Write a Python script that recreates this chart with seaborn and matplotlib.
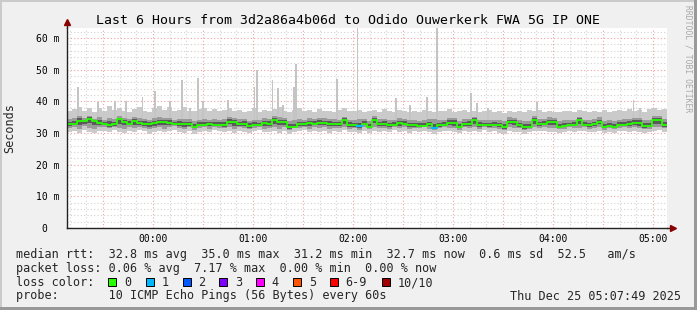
import numpy as np
import matplotlib
matplotlib.use("Agg")
import matplotlib.pyplot as plt
import seaborn as sns
from matplotlib.patches import Rectangle
from matplotlib.lines import Line2D

# ---------------- data ----------------
start_h = -0.86          # hours relative to 00:00 (first sample)
step_h = 0.05            # 3-minute samples
median_ms = [32.8,32.9,33.9,33.7,34.5,33.8,33.2,33.0,32.6,32.7,
             34.3,33.5,33.0,33.8,33.2,33.0,32.8,33.1,33.4,33.6,
             33.2,32.8,32.9,32.7,32.8,31.9,32.6,32.5,32.8,32.6,
             32.5,32.6,33.6,33.4,32.8,32.9,32.2,32.6,32.5,33.1,
             33.0,34.2,33.6,33.4,31.8,32.0,32.8,32.7,33.1,33.0,
             33.2,33.1,32.9,32.8,32.7,34.0,32.6,32.5,32.2,33.0,
             32.0,34.2,32.8,32.9,32.5,32.6,33.1,33.0,32.5,32.4,
             32.2,32.3,32.8,31.5,32.5,32.6,33.3,33.2,31.8,32.8,
             32.9,34.0,32.6,32.5,32.5,32.6,32.4,31.8,33.6,33.4,
             32.5,31.8,32.0,34.2,32.8,32.9,33.6,33.4,32.0,32.1,
             32.5,32.6,34.0,32.6,32.5,32.7,33.6,32.0,32.1,32.0,
             32.5,32.6,32.9,33.3,33.2,32.2,32.3,34.2,34.0,32.5]
ping_min = [30.3,30.6,30.1,30.8,30.4,29.9,30.5,30.7,30.2,30.9,
            30.4,30.0,30.6,30.3,30.8,30.5,29.8,30.4,30.7,30.2,
            30.6,30.9,30.3,30.1,30.7,29.7,30.4,30.6,30.2,30.8,
            30.5,30.3,30.7,30.1,30.6,30.4,29.9,30.5,30.8,30.2,
            30.4,30.6,30.0,30.7,29.6,30.3,30.5,30.8,30.2,30.6,
            30.4,30.7,30.1,30.5,30.3,30.8,30.2,30.4,29.9,30.6,
            30.1,30.7,30.3,30.5,30.2,30.8,30.4,30.6,30.0,30.5,
            30.3,30.7,30.2,29.8,30.4,30.6,30.5,30.3,29.9,30.7,
            30.4,30.6,30.2,30.8,30.3,30.5,30.1,29.8,30.6,30.4,
            30.3,29.7,30.2,30.6,30.5,30.7,30.4,30.3,30.0,30.2,
            30.6,30.4,30.5,30.7,30.2,30.4,30.6,29.9,30.3,30.1,
            30.5,30.7,30.4,30.6,30.3,30.0,30.2,30.6,30.8,30.4]
ping_max = [36.8,37.5,38.2,37.0,37.8,36.5,37.9,36.9,38.4,37.2,
            38.0,37.1,36.7,37.6,38.3,37.0,36.6,37.8,38.5,37.3,
            38.1,36.9,37.4,38.2,37.0,36.8,37.7,38.0,36.9,37.5,
            36.9,37.4,38.0,36.8,37.3,36.6,37.1,37.8,36.7,37.2,
            36.9,37.6,38.1,37.0,36.5,37.3,37.8,36.8,37.2,36.6,
            37.5,36.9,37.1,36.7,37.4,37.9,36.8,37.0,37.3,36.6,
            36.8,37.2,36.6,37.5,37.0,36.5,37.3,36.9,36.7,37.1,
            36.6,37.4,36.9,36.5,37.0,36.8,37.6,36.7,36.9,37.2,
            36.6,37.0,36.5,36.9,37.3,36.7,36.8,36.4,37.1,36.6,
            36.9,36.5,37.2,36.8,37.4,36.6,37.0,36.7,36.5,36.9,
            37.1,36.6,37.3,36.8,36.5,37.0,36.7,37.2,36.6,36.9,
            37.4,36.8,37.6,37.0,37.2,36.7,37.5,37.8,37.3,37.6]
ping_q_low = [31.6,31.9,31.4,32.1,31.7,31.2,31.8,32.0,31.5,31.9,
              31.6,31.3,31.9,31.5,32.0,31.7,31.2,31.6,31.9,31.4,
              31.8,32.1,31.5,31.3,31.9,31.0,31.6,31.8,31.4,31.9,
              31.7,31.5,31.9,31.3,31.8,31.6,31.2,31.7,32.0,31.4,
              31.6,31.8,31.2,31.9,30.9,31.5,31.7,32.0,31.4,31.8,
              31.6,31.9,31.3,31.7,31.5,32.0,31.4,31.6,31.1,31.8,
              31.3,31.9,31.5,31.7,31.4,32.0,31.6,31.8,31.2,31.7,
              31.5,31.9,31.4,31.0,31.6,31.8,31.7,31.5,31.1,31.9,
              31.6,31.8,31.4,32.0,31.5,31.7,31.3,31.0,31.8,31.6,
              31.5,31.0,31.4,31.8,31.7,31.9,31.6,31.5,31.2,31.4,
              31.8,31.6,31.7,31.9,31.4,31.6,31.8,31.1,31.5,31.3,
              31.7,31.9,31.6,31.8,31.5,31.2,31.4,31.8,32.0,31.6]
ping_q_high = [34.3,34.8,35.4,34.6,35.3,34.5,34.9,34.2,34.7,34.4,
               35.4,34.8,34.3,35.0,34.6,34.4,34.1,34.6,35.0,34.8,
               34.7,34.2,34.5,34.3,34.4,33.9,34.2,34.5,34.1,34.3,
               34.2,34.4,35.0,34.7,34.3,34.4,33.9,34.2,34.1,34.6,
               34.5,35.3,34.9,34.7,33.8,34.0,34.4,34.2,34.6,34.5,
               34.7,34.6,34.4,34.3,34.2,35.2,34.1,34.0,34.4,34.5,
               33.9,35.3,34.4,34.5,34.1,34.2,34.6,34.5,34.0,34.0,
               33.9,34.0,34.3,34.5,34.1,34.2,34.8,34.7,33.8,34.3,
               34.4,35.2,34.1,34.0,34.1,34.2,34.0,33.7,34.9,34.8,
               34.1,33.8,33.9,35.3,34.3,34.4,34.9,34.8,33.9,34.0,
               34.1,34.2,35.2,34.2,34.1,34.3,34.9,33.9,34.0,33.8,
               34.2,34.3,34.5,34.8,34.7,34.0,34.1,35.4,35.3,34.3]
loss1_samples = [58, 73]
spike_h = [-0.753,-0.55,-0.38,-0.27,-0.107,0.02,0.17,0.287,0.37,0.447,0.5,
           0.747,1.013,1.04,1.193,1.247,1.297,1.41,1.43,1.837,2.045,2.427,
           2.57,2.737,2.84,3.177,3.237,3.35,3.837,4.803,4.87]
spike_ms = [44.6,39.9,40.0,40.0,41.3,43.4,40.0,46.7,38.0,47.5,40.0,
            40.4,44.6,49.9,46.7,44.1,39.0,44.6,51.8,46.9,70.0,41.0,
            39.0,41.5,70.0,42.5,39.5,38.0,39.7,40.4,38.0]
hour_ticks = [0, 1, 2, 3, 4, 5]
hour_labels = ["00:00", "01:00", "02:00", "03:00", "04:00", "05:00"]
y_ticks = [0, 10, 20, 30, 40, 50, 60]
y_labels = ["0  ", "10 m", "20 m", "30 m", "40 m", "50 m", "60 m"]
loss_names = ["0", "1", "2", "3", "4", "5", "6-9", "10/10"]
loss_colors = ["#26ff00", "#00b8ff", "#0059ff", "#7e00ff", "#ff00ff",
               "#ff5500", "#ff0000", "#a00000"]

title = "Last 6 Hours from 3d2a86a4b06d to Odido Ouwerkerk FWA 5G IP ONE"
line_rtt = "median rtt:  32.8 ms avg  35.0 ms max  31.2 ms min  32.7 ms now  0.6 ms sd  52.5   am/s"
line_loss = "packet loss: 0.06 % avg  7.17 % max  0.00 % min  0.00 % now"
line_probe = "probe:       10 ICMP Echo Pings (56 Bytes) every 60s"
stamp = "Thu Dec 25 05:07:49 2025"

# ---------------- figure ----------------
W, H = 697, 310
sns.set_theme(style="white")
plt.rcParams['font.family'] = ['DejaVu Sans Mono', 'DejaVu Sans']

fig = plt.figure(figsize=(W / 100, H / 100), dpi=100, facecolor='#f0f0f0')


def fx(x):
    return x / W


def fy(y):
    return 1 - y / H


ax = fig.add_axes([fx(67), fy(228), 600 / W, 200 / H])
ax.set_facecolor('white')
ymax = 200 / (190 / 60)
xmin, xmax = -0.86, 5.14
ax.set_xlim(xmin, xmax)
ax.set_ylim(0, ymax)

n = len(median_ms)
t = start_h + step_h * np.arange(n + 1)


def ext(a):
    a = np.asarray(a, dtype=float)
    return np.append(a, a[-1])


# grid
ax.set_xticks(np.arange(-0.5, 5.01, 0.5))
ax.set_xticks(np.arange(-5, 31) / 6.0, minor=True)
ax.set_yticks(y_ticks)
ax.set_yticks(np.arange(0, 64, 2), minor=True)
ax.grid(which='minor', color='#d2d2d2', linestyle=(0, (1, 2)), lw=0.8)
ax.grid(which='major', color='#f0a0a0', linestyle=(0, (1, 2)), lw=0.8)
ax.set_axisbelow(True)

# smoke (outer -> inner, lighter -> darker)
med = np.asarray(median_ms)
qlo = np.asarray(ping_q_low)
qhi = np.asarray(ping_q_high)
ax.fill_between(t, ext(ping_min), ext(ping_max), step='post', color='#cacaca', lw=0, zorder=2)
ax.bar(spike_h, np.array(spike_ms) - 33, bottom=33, width=0.016, color='#c4c4c4',
       lw=0, align='center', zorder=2)
ax.fill_between(t, ext(qlo), ext(qhi), step='post', color='#9a9a9a', lw=0, zorder=3)
ax.fill_between(t, ext((qlo + med) / 2), ext((qhi + med) / 2), step='post',
                color='#5a5a5a', lw=0, zorder=3)

# median
sns.lineplot(x=t, y=ext(median_ms), drawstyle='steps-post', color=loss_colors[0],
             lw=1.3, estimator=None, ax=ax, zorder=4)
for i in loss1_samples:
    ax.plot([t[i], t[i + 1]], [median_ms[i], median_ms[i]], color=loss_colors[1], lw=1.6, zorder=5)

# axes style
for s in ['top', 'right']:
    ax.spines[s].set_visible(False)
for s in ['left', 'bottom']:
    ax.spines[s].set_color('#222222')
    ax.spines[s].set_linewidth(1.0)
    ax.spines[s].set_zorder(6)

label_x = ["" for _ in np.arange(-0.5, 5.01, 0.5)]
for h, lab in zip(hour_ticks, hour_labels):
    label_x[int(round((h + 0.5) / 0.5))] = lab
ax.set_xticklabels(label_x)
ax.set_yticklabels(y_labels)
ax.tick_params(axis='both', which='major', direction='out', length=1.6, width=0.8,
               color='#222222', labelsize=7, labelcolor='#000000')
ax.tick_params(axis='x', which='major', pad=2.8)
ax.tick_params(axis='y', which='major', pad=3.9)
ax.tick_params(axis='both', which='minor', direction='out', length=1.2, width=0.6,
               color='#444444')

# axis extensions with arrows
ax.add_line(Line2D([0, 0], [1.0, 1.025], transform=ax.transAxes, color='#222222',
                   lw=1.0, clip_on=False))
ax.add_line(Line2D([1.0, 1.005], [0, 0], transform=ax.transAxes, color='#222222',
                   lw=1.0, clip_on=False))
ax.plot([0], [1.03], marker='^', color='#8b0000', markersize=4.5, transform=ax.transAxes,
        clip_on=False, zorder=7)
ax.plot([1.0095], [0], marker='>', color='#8b0000', markersize=4.5, transform=ax.transAxes,
        clip_on=False, zorder=7)

# texts
fig.text(fx(348), fy(24.3), title, ha='center', va='baseline', fontsize=9.5, color='#000000')
fig.text(fx(10), fy(128), "Seconds", rotation=90, ha='center', va='center', fontsize=8.5)
fig.text(fx(688), fy(5), "RRDTOOL / TOBI OETIKER", rotation=270, ha='center', va='top',
         fontsize=5.8, color='#a8a8a8')

fig.text(fx(16), fy(258.3), line_rtt, ha='left', va='baseline', fontsize=8.5)
fig.text(fx(16), fy(272.3), line_loss, ha='left', va='baseline', fontsize=8.5)
fig.text(fx(16), fy(286.0), "loss color:", ha='left', va='baseline', fontsize=8.5)
swatch_left = [108.3, 145.7, 182.7, 219.3, 256.0, 293.3, 330.0, 381.7]
for xl, name, col in zip(swatch_left, loss_names, loss_colors):
    fig.patches.append(Rectangle((fx(xl), fy(286)), 8 / W, 8 / H, transform=fig.transFigure,
                                 facecolor=col, edgecolor='#000000', lw=0.7))
    fig.text(fx(xl + 15.7), fy(286.0), name, ha='left', va='baseline', fontsize=8.5)
fig.text(fx(16), fy(299.5), line_probe, ha='left', va='baseline', fontsize=8.5)
fig.text(fx(681), fy(299.5), stamp, ha='right', va='baseline', fontsize=8.5)

# 3D border
for (x0, y0, w, h, c) in [(0, 0, W, 2, '#cbcbcb'), (0, 0, 2, H, '#cbcbcb'),
                          (0, H - 3, W, 3, '#999999'), (W - 3, 0, 3, H, '#999999')]:
    fig.patches.append(Rectangle((fx(x0), fy(y0 + h)), w / W, h / H, transform=fig.transFigure,
                                 facecolor=c, edgecolor='none', lw=0))

fig.savefig('out.png', dpi=100, facecolor=fig.get_facecolor())
